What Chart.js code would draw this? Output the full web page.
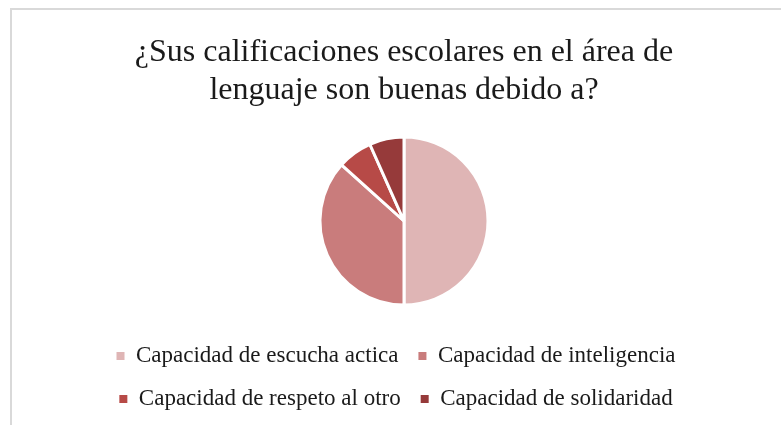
<!DOCTYPE html>
<html>
<head>
<meta charset="utf-8">
<script src="https://cdn.jsdelivr.net/npm/chart.js@4"></script>
<style>
    html, body { margin: 0; padding: 0; background: #fff; overflow: hidden; }
    body { width: 781px; height: 425px; position: relative; }
    #frame {
        position: absolute; left: 10px; top: 8px;
        width: 788px; height: 430px;
        border: 2px solid #d9d9d9; box-sizing: border-box;
    }
    #wrap { position: absolute; left: 12px; top: 10px; width: 784px; height: 415px; }
</style>
</head>
<body>
<div id="frame"></div>
<div id="wrap"><canvas id="grafico"></canvas></div>
<script>
// datos de la encuesta
const categorias = [
    'Capacidad de escucha actica',
    'Capacidad de inteligencia',
    'Capacidad de respeto al otro',
    'Capacidad de solidaridad'
];
const valores = [15, 11, 2, 2];
const colores = ['#dfb5b5', '#c97c7c', '#b74a47', '#963a3a'];
const titulo = ['¿Sus calificaciones escolares en el área de', 'lenguaje son buenas debido a?'];

const fuente = '"Liberation Serif", "Times New Roman", serif';

// la leyenda del original está un poco corrida a la izquierda
const moverLeyenda = {
    id: 'moverLeyenda',
    afterLayout(chart) {
        if (chart.legend) {
            chart.legend.left -= 8;
            chart.legend.right -= 8;
        }
    }
};

new Chart(document.getElementById('grafico').getContext('2d'), {
    type: 'pie',
    data: {
        labels: categorias,
        datasets: [{
            data: valores,
            backgroundColor: colores,
            borderColor: '#ffffff',
            borderWidth: 3
        }]
    },
    options: {
        responsive: true,
        maintainAspectRatio: false,
        animation: false,
        radius: 84,
        layout: { padding: { bottom: 4.5 } },
        plugins: {
            title: {
                display: true,
                text: titulo,
                color: '#1a1a1a',
                font: { family: fuente, size: 32, weight: 'normal', lineHeight: 1.1875 },
                padding: { top: 24, bottom: 7.5 }
            },
            legend: {
                display: true,
                position: 'bottom',
                labels: {
                    color: '#1a1a1a',
                    font: { family: fuente, size: 23 },
                    boxWidth: 8,
                    boxHeight: 8,
                    padding: 20,
                    generateLabels: function (chart) {
                        // cuadros sin borde blanco
                        const items = Chart.overrides.pie.plugins.legend.labels.generateLabels(chart);
                        items.forEach(it => { it.lineWidth = 0; });
                        return items;
                    }
                }
            },
            tooltip: { enabled: false }
        }
    },
    plugins: [moverLeyenda]
});
</script>
</body>
</html>
